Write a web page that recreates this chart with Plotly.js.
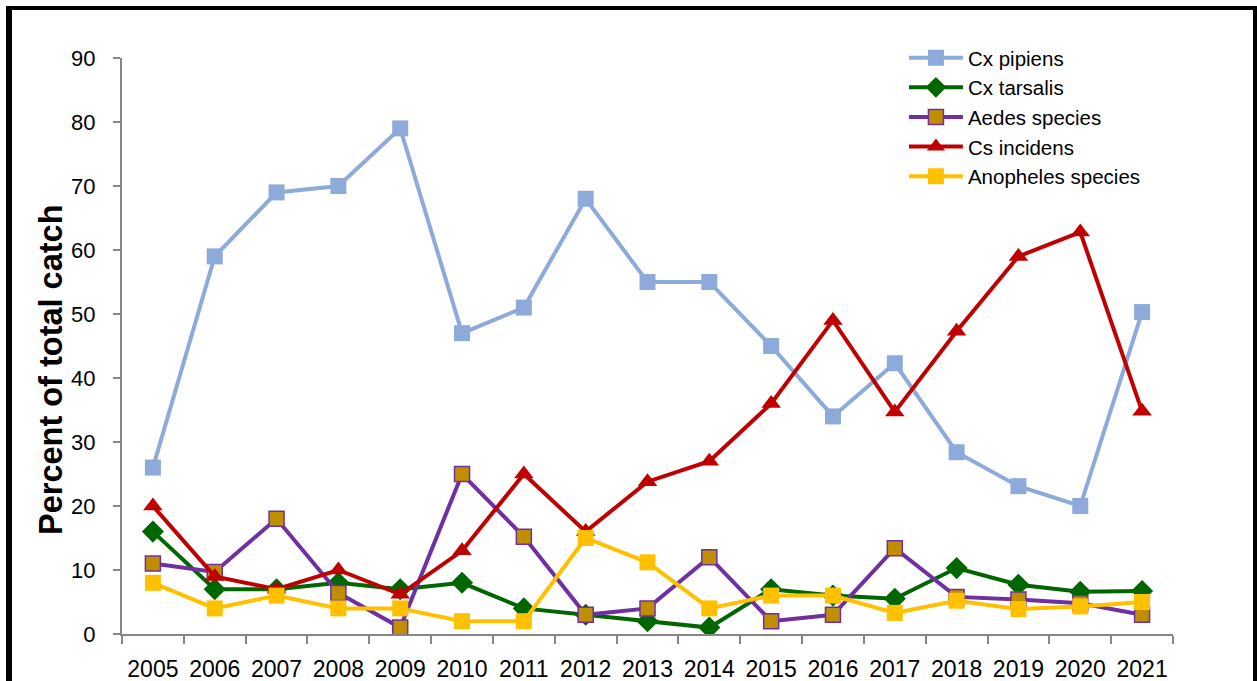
<!DOCTYPE html>
<html>
<head>
<meta charset="utf-8">
<script src="https://cdn.plot.ly/plotly-3.0.1.min.js"></script>
<style>
  html, body { margin: 0; padding: 0; background: #ffffff; overflow: hidden; }
  #wrap { position: relative; width: 1257px; height: 681px; }
  #chart { position: absolute; left: 0; top: 0; width: 1257px; height: 681px; }
  #frame { position: absolute; left: 6px; top: 6px; width: 1241px; height: 700px;
           border-left: 6px solid #000; border-top: 4px solid #000; border-right: 4px solid #000;
           pointer-events: none; }
</style>
</head>
<body>
<div id="wrap">
  <div id="chart"></div>
  <div id="frame"></div>
</div>
<script>
const years = ["2005","2006","2007","2008","2009","2010","2011","2012","2013","2014","2015","2016","2017","2018","2019","2020","2021"];

const cxPipiens   = [26, 59, 69, 70, 79, 47, 51, 68, 55, 55, 45, 34, 42.3, 28.4, 23.1, 20, 50.3];
const cxTarsalis  = [16, 7, 7, 8, 7, 8, 4, 3, 2, 1, 7, 6, 5.5, 10.3, 7.7, 6.6, 6.7];
const aedesSpp    = [11, 9.7, 18, 6.4, 1, 25, 15.2, 3, 4, 12, 2, 3, 13.4, 5.8, 5.4, 4.8, 3];
const csIncidens  = [20, 9, 7, 10, 6.2, 13, 25, 16, 23.8, 27, 36, 49, 34.7, 47.3, 59, 62.8, 34.8];
const anopheles   = [8, 4, 6, 4, 4, 2, 2, 15, 11.2, 4, 6, 6, 3.3, 5.2, 3.9, 4.3, 5];

const yTicks = [0, 10, 20, 30, 40, 50, 60, 70, 80, 90];
const yTitle = "Percent of total catch";

const font = "Liberation Sans, Arial, sans-serif";

function series(name, y, lineColor, symbol, size, fill, outline) {
  return {
    type: "scatter", mode: "lines+markers", name: name,
    x: years, y: y,
    line: { color: lineColor, width: 4 },
    marker: { symbol: symbol, size: size, color: fill,
              line: { color: outline || fill, width: outline ? 1.5 : 0 } }
  };
}

const data = [
  series("Cx pipiens", cxPipiens, "#8EAADB", "square", 16, "#8EAADB"),
  series("Cx tarsalis", cxTarsalis, "#006600", "diamond", 17, "#006600"),
  series("Aedes species", aedesSpp, "#7030A0", "square", 15, "#BF8F00", "#7030A0"),
  series("Cs incidens", csIncidens, "#C00000", "triangle-up", 17, "#C00000"),
  series("Anopheles species", anopheles, "#FFC000", "square", 16, "#FFC000")
];

const layout = {
  width: 1257, height: 681,
  margin: { l: 122, r: 84, t: 58, b: 47 },
  paper_bgcolor: "#ffffff", plot_bgcolor: "#ffffff",
  font: { family: font, color: "#000000", size: 22 },
  showlegend: true,
  legend: {
    x: 0.744, xanchor: "left", y: 1.035, yanchor: "top",
    bgcolor: "rgba(0,0,0,0)", borderwidth: 0,
    font: { family: font, size: 20.5, color: "#000000" },
    itemwidth: 54, tracegroupgap: 0
  },
  xaxis: {
    type: "category", categoryorder: "array", categoryarray: years,
    range: [-0.5, 16.5],
    tickson: "boundaries",
    showline: true, linecolor: "#868686", linewidth: 2,
    ticks: "outside", ticklen: 8, tickwidth: 2, tickcolor: "#868686",
    showgrid: false, zeroline: false,
    tickfont: { family: font, size: 23, color: "#000000" },
    ticklabelstandoff: 13,
    tickangle: 0
  },
  yaxis: {
    range: [0, 90], tickvals: yTicks, ticktext: yTicks.map(String),
    showline: true, linecolor: "#868686", linewidth: 2,
    ticks: "outside", ticklen: 7, tickwidth: 2, tickcolor: "#868686",
    showgrid: false, zeroline: false,
    tickfont: { family: font, size: 22, color: "#000000" },
    ticklabelstandoff: 13
  },
  annotations: [{
    text: yTitle, textangle: -90, showarrow: false,
    xref: "paper", yref: "paper",
    x: (51 - 122) / 1051, y: (634 - 370) / 576,
    xanchor: "center", yanchor: "middle",
    font: { family: font, size: 32.5, color: "#000000", weight: "bold" }
  }]
};

Plotly.newPlot("chart", data, layout, { displayModeBar: false, staticPlot: true });
</script>
</body>
</html>
